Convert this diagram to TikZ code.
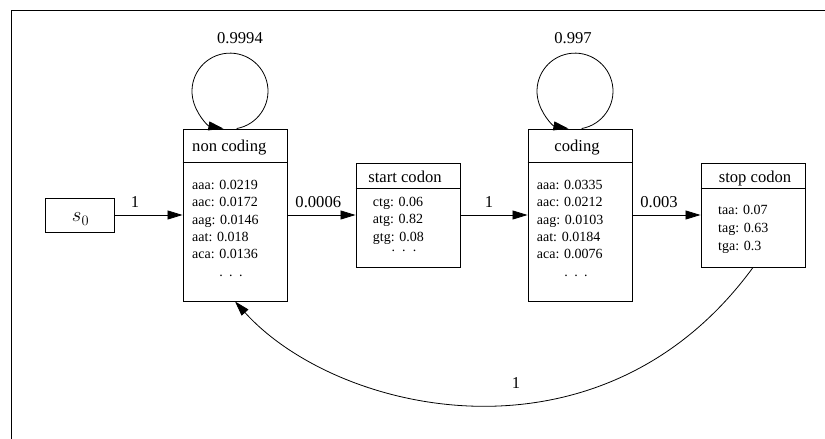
\documentclass[tikz,border=0pt]{standalone}
\usepackage{fontspec}
\setmainfont{Liberation Serif}
\usetikzlibrary{arrows.meta}
\begin{document}
\begin{tikzpicture}[x=1pt,y=1pt,
  box/.style={draw, line width=0.9pt, inner sep=0pt, minimum width=104pt},
  arr/.style={line width=0.8pt, -{Triangle[length=15pt,width=9pt]}},
  hdr/.style={font=\fontsize{16.6}{20}\selectfont, inner sep=0pt},
  row/.style={font=\fontsize{14}{17}\selectfont, inner sep=0pt, anchor=base west},
  dotrow/.style={font=\fontsize{14}{17}\selectfont, inner sep=0pt, anchor=base},
  lbl/.style={font=\fontsize{16.6}{20}\selectfont, inner sep=0pt, anchor=base}]
\useasboundingbox (0,0) rectangle (825,439);
\draw[line width=0.9pt] (825,429) -- (11,429) -- (11,0);

% boxes
\node[box, minimum width=69pt, minimum height=34pt] (s0) at (79.5,224)
  {\raisebox{-7pt}[0pt][0pt]{\fontsize{20}{24}\selectfont\hspace{2pt}$s_0$}};
\node[box, minimum height=172pt] (nc) at (235,224) {};
\node[box, minimum height=104pt] (start) at (408,224) {};
\node[box, minimum height=172pt] (coding) at (580,224) {};
\node[box, minimum height=104pt] (stop) at (753,224) {};

% header separators
\draw[line width=0.9pt] ([yshift=-34pt]nc.north west) -- ([yshift=-34pt]nc.north east);
\draw[line width=0.9pt] ([yshift=-26pt]start.north west) -- ([yshift=-26pt]start.north east);
\draw[line width=0.9pt] ([yshift=-34pt]coding.north west) -- ([yshift=-34pt]coding.north east);
\draw[line width=0.9pt] ([yshift=-26pt]stop.north west) -- ([yshift=-26pt]stop.north east);

% headers
\node[hdr, anchor=base west] (ncH) at (192,287) {non coding};
\node[hdr, anchor=base] (startH) at (405,256.5) {start codon};
\node[hdr, anchor=base] (codingH) at (577,287) {coding};
\node[hdr, anchor=base] (stopH) at (755,256.5) {stop codon};

% rows
\foreach \t [count=\i] in {aaa: 0.0219, aac: 0.0172, aag: 0.0146, aat: 0.018, aca: 0.0136}
  \node[row] (nc\i) at (192,{249.5-(\i-1)*17.3}) {\t};
\node[dotrow] (ncD) at (231,162.5) {.\hspace{6.5pt}.\hspace{6.5pt}.};

\foreach \t [count=\i] in {aaa: 0.0335, aac: 0.0212, aag: 0.0103, aat: 0.0184, aca: 0.0076}
  \node[row] (co\i) at (536.7,{249.5-(\i-1)*17.3}) {\t};
\node[dotrow] (coD) at (576,162.5) {.\hspace{6.5pt}.\hspace{6.5pt}.};

\foreach \t [count=\i] in {ctg: 0.06, atg: 0.82, gtg: 0.08}
  \node[row] (st\i) at (372.7,{232.3-(\i-1)*17.2}) {\t};
\node[dotrow] (stD) at (404,187.5) {.\hspace{7.2pt}.\hspace{7.2pt}.};

\foreach \t [count=\i] in {taa: 0.07, tag: 0.63, tga: 0.3}
  \node[row] (sp\i) at (718,{224.5-(\i-1)*17.8}) {\t};

% edges
\draw[arr] (s0.east) -- (nc.west);
\draw[arr] (nc.east) -- (start.west);
\draw[arr] (start.east) -- (coding.west);
\draw[arr] (coding.east) -- (stop.west);
\draw[arr] ([xshift=1.6pt]nc.north) arc[start angle=-80, end angle=260, radius=38];
\draw[arr] ([xshift=1.6pt]coding.north) arc[start angle=-80, end angle=260, radius=38];
\draw[arr] (stop.south) .. controls (600.6,-37) and (336.5,25) .. (nc.south);

% edge labels
\node[lbl] (l1) at (135,231.7) {1};
\node[lbl] (l2) at (318.3,231.7) {0.0006};
\node[lbl] (l3) at (489,231.7) {1};
\node[lbl] (l4) at (659,231.7) {0.003};
\node[lbl] (l5) at (240,395.7) {0.9994};
\node[lbl] (l6) at (573,395.7) {0.997};
\node[lbl] (l7) at (516,50.7) {1};
\end{tikzpicture}
\end{document}
